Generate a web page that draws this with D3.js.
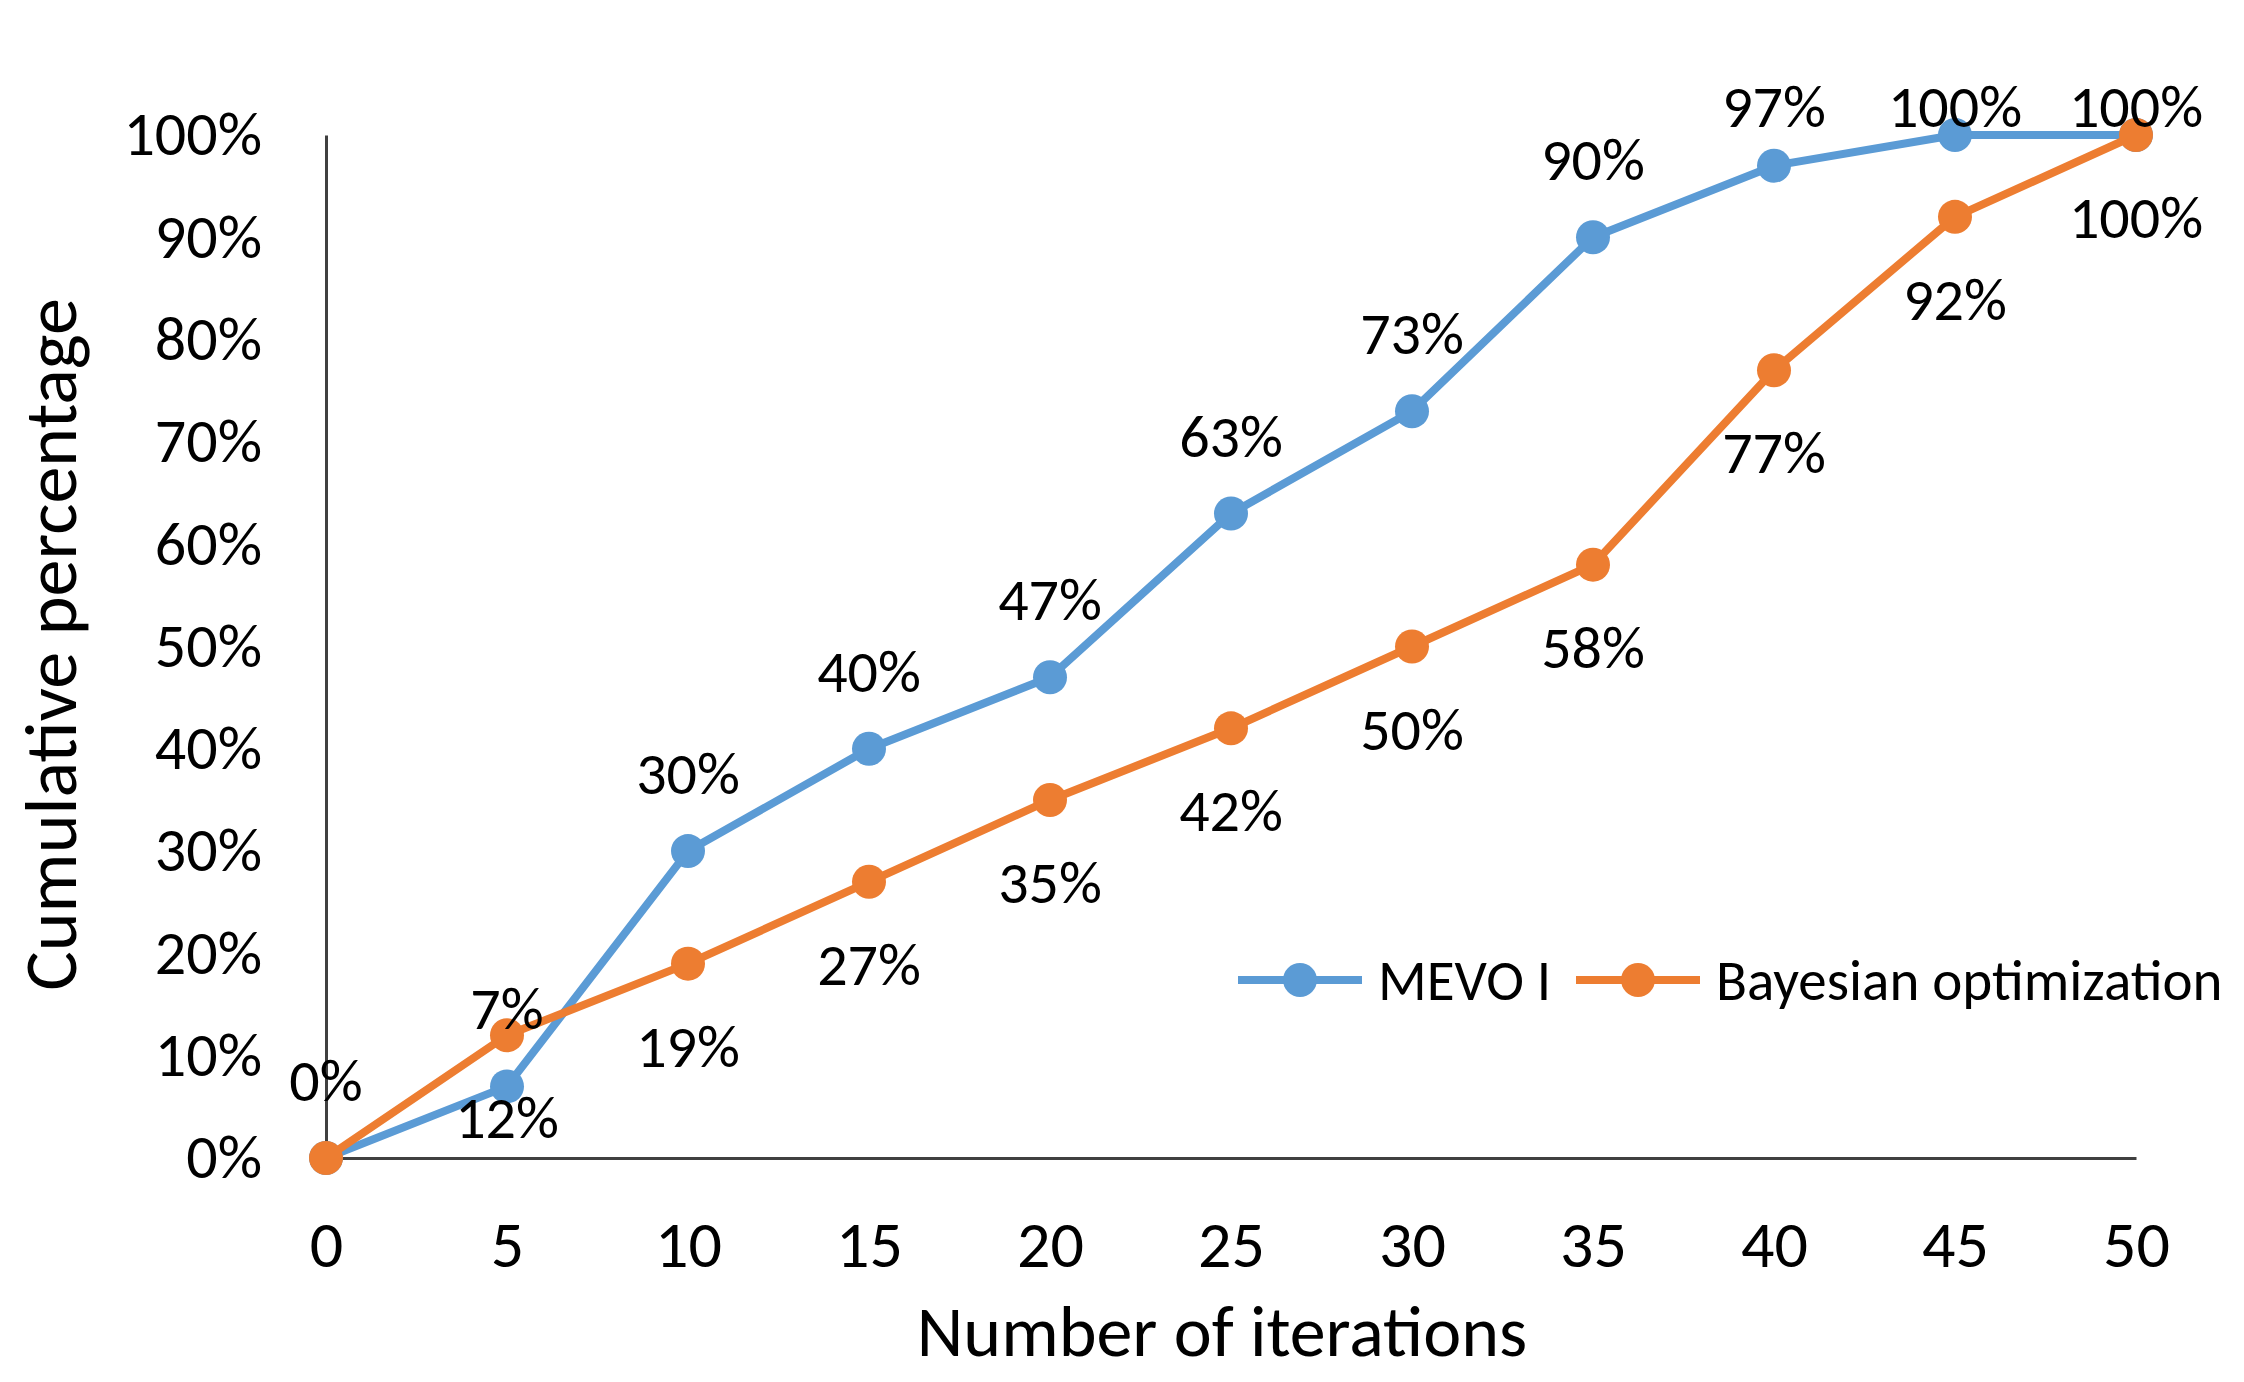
<!DOCTYPE html>
<html>
<head>
<meta charset="utf-8">
<script src="https://cdn.jsdelivr.net/npm/d3@7"></script>
<style>
  body { margin: 0; background: #fff; }
  text { font-family: Carlito, Lato, "Open Sans", sans-serif; fill: #000; }
</style>
</head>
<body>
<svg id="chart"></svg>
<script>
// data
const iterations = [0, 5, 10, 15, 20, 25, 30, 35, 40, 45, 50];
const mevo = [0, 7, 30, 40, 47, 63, 73, 90, 97, 100, 100];
const bayes = [0, 12, 19, 27, 35, 42, 50, 58, 77, 92, 100];
const mevoLabels = ["0%", "7%", "30%", "40%", "47%", "63%", "73%", "90%", "97%", "100%", "100%"];
const bayesLabels = [null, "12%", "19%", "27%", "35%", "42%", "50%", "58%", "77%", "92%", "100%"];
const yTicks = [0, 10, 20, 30, 40, 50, 60, 70, 80, 90, 100];

const width = 2244, height = 1382;
const marginLeft = 326, marginRight = 108, marginTop = 135, marginBottom = 224;
const blue = "#5B9BD5", orange = "#ED7D31";

const svg = d3.select("#chart")
  .attr("width", width)
  .attr("height", height)
  .attr("viewBox", [0, 0, width, height]);

const x = d3.scaleLinear([0, 50], [marginLeft, width - marginRight]);
const y = d3.scaleLinear([0, 100], [height - marginBottom, marginTop]);

// y axis
svg.append("g")
  .attr("transform", `translate(${marginLeft},0)`)
  .call(d3.axisLeft(y).tickValues(yTicks).tickFormat(d => d + "%").tickSize(0).tickPadding(64))
  .call(g => g.select(".domain").attr("stroke", "#404040").attr("stroke-width", 3))
  .call(g => g.selectAll(".tick text").style("font-size", "62px"));

// x axis
svg.append("g")
  .attr("transform", `translate(0,${height - marginBottom})`)
  .call(d3.axisBottom(x).tickValues(iterations).tickSize(0).tickPadding(62))
  .call(g => g.select(".domain").attr("stroke", "#404040").attr("stroke-width", 3))
  .call(g => g.selectAll(".tick text").style("font-size", "66px"));

// axis titles
svg.append("text")
  .attr("x", (marginLeft + width - marginRight) / 2 - 9)
  .attr("y", 1356)
  .attr("text-anchor", "middle")
  .style("font-size", "72px")
  .text("Number of iterations");

svg.append("text")
  .attr("transform", `translate(76,${(marginTop + height - marginBottom) / 2 - 2}) rotate(-90)`)
  .attr("text-anchor", "middle")
  .style("font-size", "74px")
  .text("Cumulative percentage");

const line = d3.line().x((d, i) => x(iterations[i])).y(d => y(d));

function drawSeries(values, color) {
  const g = svg.append("g");
  g.append("path")
    .datum(values)
    .attr("fill", "none")
    .attr("stroke", color)
    .attr("stroke-width", 8)
    .attr("stroke-linejoin", "round")
    .attr("d", line);
  g.selectAll("circle")
    .data(values)
    .join("circle")
    .attr("cx", (d, i) => x(iterations[i]))
    .attr("cy", d => y(d))
    .attr("r", 17)
    .attr("fill", color);
}

drawSeries(mevo, blue);
drawSeries(bayes, orange);

// data labels: MEVO above (kept inside the chart area), Bayesian below
svg.append("g")
  .selectAll("text")
  .data(mevo)
  .join("text")
  .attr("x", (d, i) => x(iterations[i]))
  .attr("y", d => Math.max(y(d) - 78, 106))
  .attr("dy", "0.35em")
  .attr("text-anchor", "middle")
  .style("font-size", "60px")
  .text((d, i) => mevoLabels[i]);

svg.append("g")
  .selectAll("text")
  .data(bayes.map((d, i) => i).filter(i => bayesLabels[i]))
  .join("text")
  .attr("x", i => x(iterations[i]))
  .attr("y", i => y(bayes[i]) + 82)
  .attr("dy", "0.35em")
  .attr("text-anchor", "middle")
  .style("font-size", "60px")
  .text(i => bayesLabels[i]);

// legend
const legend = svg.append("g").attr("transform", "translate(0,980)");
const items = [
  { name: "MEVO I", color: blue, x0: 1238 },
  { name: "Bayesian optimization", color: orange, x0: 1576 }
];
items.forEach(it => {
  legend.append("line")
    .attr("x1", it.x0).attr("x2", it.x0 + 124)
    .attr("stroke", it.color).attr("stroke-width", 8);
  legend.append("circle")
    .attr("cx", it.x0 + 62).attr("r", 17).attr("fill", it.color);
  legend.append("text")
    .attr("x", it.x0 + 140)
    .attr("dy", "0.35em")
    .style("font-size", "57px")
    .text(it.name);
});
</script>
</body>
</html>
